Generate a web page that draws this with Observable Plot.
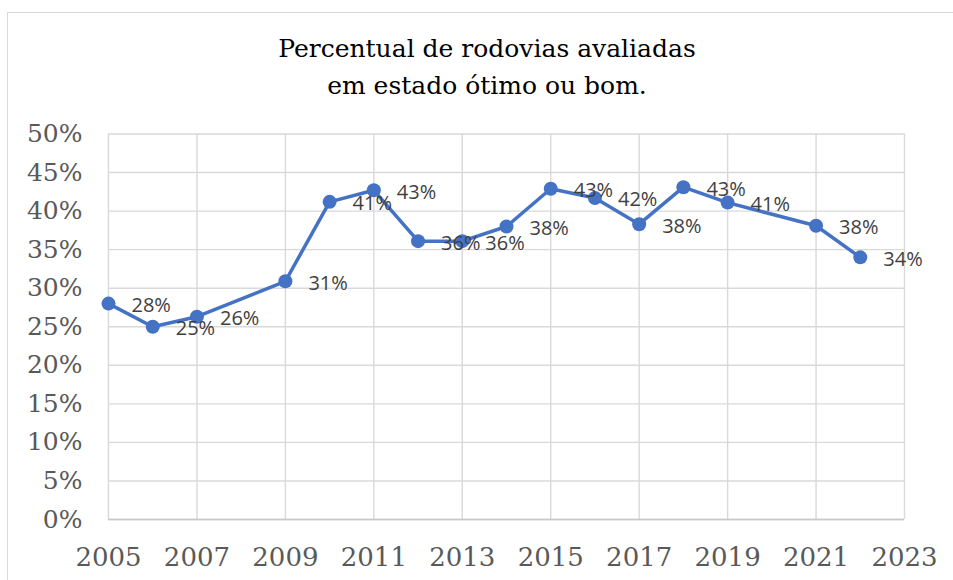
<!DOCTYPE html>
<html>
<head>
<meta charset="utf-8">
<script src="https://cdn.jsdelivr.net/npm/d3@7"></script>
<script src="https://cdn.jsdelivr.net/npm/@observablehq/plot@0.6"></script>
<style>
  html, body { margin: 0; padding: 0; background: #fff; }
  #wrap { position: relative; width: 953px; height: 580px; overflow: hidden; }
  #frame { position: absolute; left: 7px; top: 12px; width: 1000px; height: 700px; border: 1.5px solid #d9d9d9; box-sizing: border-box; }
  #title { position: absolute; left: 0; top: 30px; width: 974px; text-align: center; font-family: "DejaVu Serif", serif; font-size: 25px; line-height: 37px; color: #000; }
  #chart { position: absolute; left: 0; top: 0; }
</style>
</head>
<body>
<div id="wrap">
  <div id="frame"></div>
  <div id="chart"></div>
  <div id="title">Percentual de rodovias avaliadas<br>em estado ótimo ou bom.</div>
</div>
<script>
const years  = [2005, 2006, 2007, 2009, 2010, 2011, 2012, 2013, 2014, 2015, 2016, 2017, 2018, 2019, 2021, 2022];
const values = [28.0, 25.0, 26.3, 30.9, 41.2, 42.7, 36.1, 36.1, 38.0, 42.9, 41.7, 38.3, 43.1, 41.1, 38.1, 34.0];
const labels = ["28%", "25%", "26%", "31%", "41%", "43%", "36%", "36%", "38%", "43%", "42%", "38%", "43%", "41%", "38%", "34%"];
const xTicks = [2005, 2007, 2009, 2011, 2013, 2015, 2017, 2019, 2021, 2023];
const yTicks = [0, 5, 10, 15, 20, 25, 30, 35, 40, 45, 50];

const data = years.map((y, i) => ({year: y, value: values[i], label: labels[i]}));
const blue = "#4472C4";

const chart = Plot.plot({
  width: 953,
  height: 580,
  marginLeft: 108,
  marginRight: 49,
  marginTop: 133.5,
  marginBottom: 61,
  style: {background: "transparent", overflow: "visible"},
  x: {type: "linear", domain: [2005, 2023]},
  y: {domain: [0, 50]},
  marks: [
    Plot.gridX(xTicks, {stroke: "#d9d9d9", strokeOpacity: 1, strokeWidth: 1.4}),
    Plot.gridY(yTicks, {stroke: "#d9d9d9", strokeOpacity: 1, strokeWidth: 1.4}),
    Plot.ruleY([0], {stroke: "#c8c8c8", strokeWidth: 1.5}),
    Plot.axisY({ticks: yTicks, tickFormat: d => d + "%", tickSize: 0, tickPadding: 26, fontSize: 25, fontFamily: "DejaVu Serif", color: "#595959", label: null}),
    Plot.axisX({ticks: xTicks, tickFormat: d => String(d), tickSize: 0, tickPadding: 28, fontSize: 26, fontFamily: "DejaVu Serif", color: "#595959", label: null}),
    Plot.line(data, {x: "year", y: "value", stroke: blue, strokeWidth: 3.5}),
    Plot.dot(data, {x: "year", y: "value", r: 7, fill: blue, stroke: "none"}),
    Plot.text(data, {x: "year", y: "value", text: "label", textAnchor: "start", dx: 23, dy: 2, fontSize: 20, fontFamily: "Open Sans", fill: "#404040"})
  ]
});
document.getElementById("chart").appendChild(chart);
</script>
</body>
</html>
